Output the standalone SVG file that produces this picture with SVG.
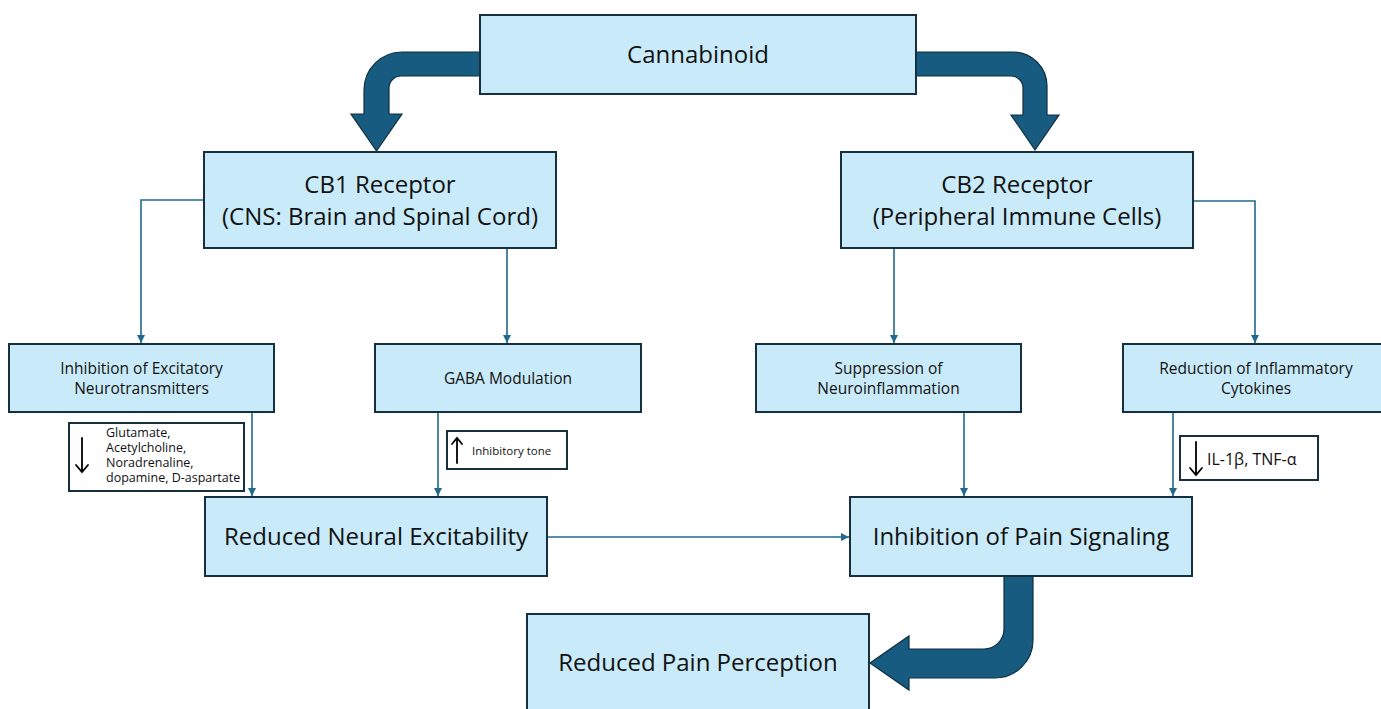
<svg xmlns="http://www.w3.org/2000/svg" width="1381" height="709" viewBox="0 0 1381 709">
<defs>
<marker id="ah" markerWidth="8" markerHeight="8" refX="8" refY="4" orient="auto" markerUnits="userSpaceOnUse"><path d="M0,0 L8,4 L0,8 Z" fill="#1f6a8e"/></marker>
<style>
.box{fill:#c9ebf9;stroke:#17303d;stroke-width:2}
.note{fill:#ffffff;stroke:#17303d;stroke-width:2}
.big{font-family:'Open Sans',sans-serif;font-size:24px;fill:#111;text-anchor:middle}
.sm{font-family:'Open Sans',sans-serif;font-size:15.5px;fill:#111;text-anchor:middle}
.tiny{font-family:'Open Sans',sans-serif;font-size:12.5px;fill:#111}
.updown{fill:none;stroke:#000;stroke-width:1.8;stroke-linecap:round;stroke-linejoin:miter}
.conn{fill:none;stroke:#1f6a8e;stroke-width:1.6;marker-end:url(#ah)}
.thick{fill:#175c80;stroke:#0f2e3e;stroke-width:1.2}
</style>
</defs>
<rect width="1381" height="709" fill="#ffffff"/>

<g id="thick-arrows">
<path class="thick" d="M481,52 L402,52 A38,38 0 0 0 364,90 L364,114 L351,114 L376.5,151 L402,114 L389,114 L389,88 A12,12 0 0 1 401,76 L481,76 Z"/>
<path class="thick" d="M915,52 L1013,52 A34,34 0 0 1 1047,86 L1047,115 L1059,115 L1035,150 L1011,115 L1023,115 L1023,88 A12,12 0 0 0 1011,76 L915,76 Z"/>
<path class="thick" d="M1004,576 L1033,576 L1033,640 A38,38 0 0 1 995,678 L909,678 L909,690 L870,663 L909,636 L909,649 L984,649 A20,20 0 0 0 1004,629 Z"/>
</g>

<g id="connectors">
<path class="conn" d="M204,200 H141 V343"/>
<path class="conn" d="M507,248 V343"/>
<path class="conn" d="M894,248 V343"/>
<path class="conn" d="M1193,201 H1255 V343"/>
<path class="conn" d="M252,412 V496"/>
<path class="conn" d="M438,412 V496"/>
<path class="conn" d="M964,412 V496"/>
<path class="conn" d="M1173,412 V496"/>
<path class="conn" d="M547,537 H849"/>
</g>

<g id="cannabinoid">
<rect class="box" x="480" y="15" width="436" height="79"/>
<text class="big" x="698" y="63">Cannabinoid</text>
</g>

<g id="cb1">
<rect class="box" x="204" y="152" width="352" height="96"/>
<text class="big" x="380" y="193">CB1 Receptor</text>
<text class="big" x="380" y="225">(CNS: Brain and Spinal Cord)</text>
</g>

<g id="cb2">
<rect class="box" x="841" y="152" width="352" height="96"/>
<text class="big" x="1017" y="193">CB2 Receptor</text>
<text class="big" x="1017" y="225">(Peripheral Immune Cells)</text>
</g>

<g id="inhibition-excitatory">
<rect class="box" x="9" y="344" width="265" height="68"/>
<text class="sm" x="141.5" y="374">Inhibition of Excitatory</text>
<text class="sm" x="141.5" y="394">Neurotransmitters</text>
</g>

<g id="gaba">
<rect class="box" x="375" y="344" width="266" height="68"/>
<text class="sm" x="508" y="384">GABA Modulation</text>
</g>

<g id="suppression">
<rect class="box" x="756" y="344" width="265" height="68"/>
<text class="sm" x="888.5" y="374">Suppression of</text>
<text class="sm" x="888.5" y="394">Neuroinflammation</text>
</g>

<g id="reduction">
<rect class="box" x="1123" y="344" width="266" height="68"/>
<text class="sm" x="1256" y="374">Reduction of Inflammatory</text>
<text class="sm" x="1256" y="394">Cytokines</text>
</g>

<g id="note-neurotransmitters">
<rect class="note" x="69" y="423" width="175" height="68"/>
<path class="updown" d="M82,438 V472 M76,465 L82,472 L88,465"/>
<text class="tiny" x="106" y="437">Glutamate,</text>
<text class="tiny" x="106" y="452">Acetylcholine,</text>
<text class="tiny" x="106" y="467">Noradrenaline,</text>
<text class="tiny" x="106" y="482">dopamine, D-aspartate</text>
</g>

<g id="note-inhibitory">
<rect class="note" x="447" y="431" width="120" height="38"/>
<path class="updown" d="M457,463 V438 M452,444 L457,438 L462,444"/>
<text class="tiny" x="472" y="455" style="font-size:11.5px">Inhibitory tone</text>
</g>

<g id="note-cytokines">
<rect class="note" x="1180" y="436" width="138" height="44"/>
<path class="updown" d="M1196,442 V475 M1190,468 L1196,475 L1202,468"/>
<text class="tiny" x="1207" y="465" style="font-size:16px">IL-1β, TNF-α</text>
</g>

<g id="reduced-neural">
<rect class="box" x="205" y="497" width="342" height="79"/>
<text class="big" x="376" y="545">Reduced Neural Excitability</text>
</g>

<g id="inhibition-pain">
<rect class="box" x="850" y="497" width="342" height="79"/>
<text class="big" x="1021" y="545">Inhibition of Pain Signaling</text>
</g>

<g id="reduced-pain">
<rect class="box" x="527" y="614" width="342" height="110"/>
<text class="big" x="698" y="671">Reduced Pain Perception</text>
</g>
</svg>
